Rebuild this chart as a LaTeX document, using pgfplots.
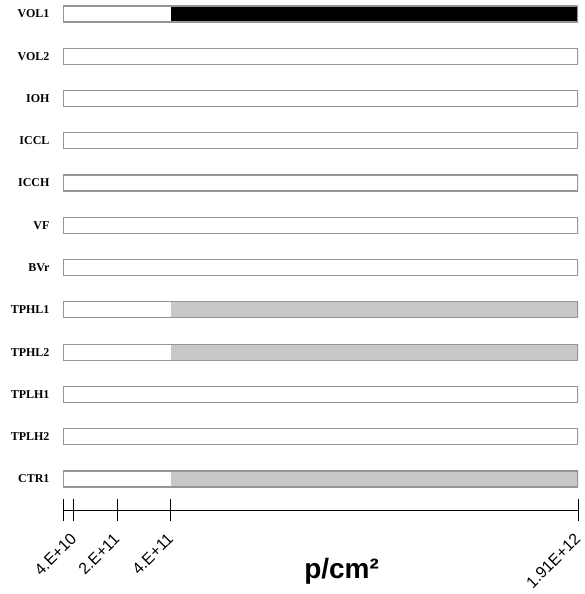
\documentclass[border=0pt]{standalone}
\usepackage{pgfplots}
\pgfplotsset{compat=1.18}
\usepackage{pgfplotstable}
\usepackage{fontspec}
\setmainfont{Liberation Sans}
\newfontfamily\serifb{Liberation Serif}
\definecolor{barborder}{RGB}{150,150,150}
\definecolor{lightbar}{RGB}{200,200,200}

% y: 11 = VOL1 ... 0 = CTR1
\pgfplotstableread{
y  white    black    gray
11 4e11     1.51e12  0
10 1.91e12  0        0
9  1.91e12  0        0
8  1.91e12  0        0
7  1.91e12  0        0
6  1.91e12  0        0
5  1.91e12  0        0
4  4e11     0        1.51e12
3  4e11     0        1.51e12
2  1.91e12  0        0
1  1.91e12  0        0
0  4e11     0        1.51e12
}\rows

\pgfplotsset{
  base/.style={
    width=515pt, height=510pt, scale only axis,
    at={(63pt,84pt)}, anchor=south west,
    xmin=0, xmax=1.91e12, ymin=-0.733, ymax=11.33,
    bar width=16pt,
  }
}

\begin{document}
\begin{tikzpicture}
\path[use as bounding box] (0,0) rectangle (584pt,594pt);
% fills
\begin{axis}[base, xbar stacked, hide axis]
\addplot[fill=white, draw=none] table[x=white, y=y] {\rows};
\addplot[fill=black, draw=none] table[x=black, y=y] {\rows};
\addplot[fill=lightbar, draw=none] table[x=gray, y=y] {\rows};
\end{axis}
% borders and axes
\begin{axis}[base, xbar,
  axis x line=bottom, axis y line=left,
  x axis line style={-, black, line width=0.8pt},
  y axis line style={draw=none},
  ytick={0,...,11},
  yticklabels={CTR1,TPLH2,TPLH1,TPHL2,TPHL1,BVr,VF,ICCH,ICCL,IOH,VOL2,VOL1},
  yticklabel style={font=\serifb\bfseries\fontsize{12}{14}\selectfont, xshift=1pt},
  major y tick style={draw=none},
  xtick={0,4e10,2e11,4e11,1.91e12},
  xticklabels={,4.E+10,2.E+11,4.E+11,1.91E+12},
  xtick align=center, major tick length=22pt,
  major x tick style={black, line width=0.8pt},
  x tick label style={rotate=45, anchor=north east, font=\fontsize{16}{18}\selectfont, xshift=-7.6pt, yshift=-1.4pt},
  scaled x ticks=false,
  xlabel={\textbf{p/cm²}},
  xlabel style={at={(axis description cs:0.541,0)}, anchor=base, yshift=-68pt, font=\fontsize{28}{32}\selectfont},
]
\addplot[fill=none, draw=barborder, line width=1.2pt, bar shift=0pt] table[x expr=1.91e12, y=y] {\rows};
\end{axis}
\end{tikzpicture}
\end{document}
